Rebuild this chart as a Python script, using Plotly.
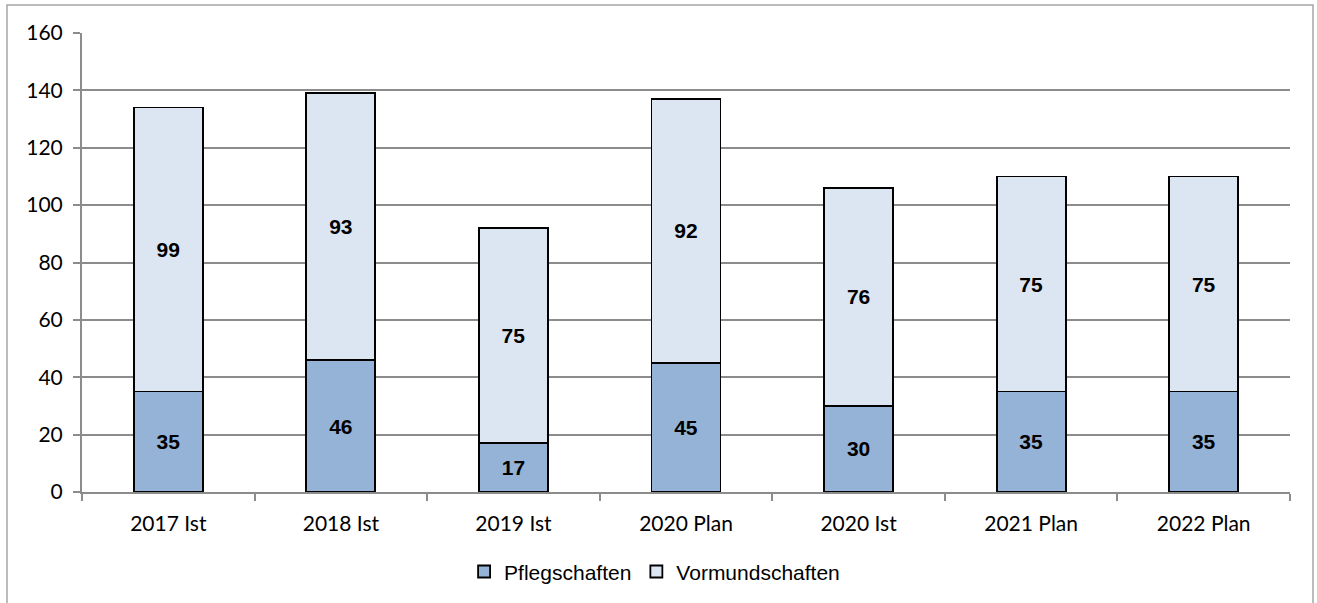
import plotly.graph_objects as go

categories = ["2017 Ist", "2018 Ist", "2019 Ist", "2020 Plan", "2020 Ist", "2021 Plan", "2022 Plan"]
pflegschaften = [35, 46, 17, 45, 30, 35, 35]
vormundschaften = [99, 93, 75, 92, 76, 75, 75]

W, H = 1317, 603
L, R, T, B = 82, 27, 33, 111
pw, ph = W - L - R, H - T - B

fig = go.Figure()
for name, vals, col in [("Pflegschaften", pflegschaften, "#95B3D7"),
                        ("Vormundschaften", vormundschaften, "#DCE6F2")]:
    fig.add_trace(go.Bar(
        x=categories, y=vals, name=name,
        marker=dict(color=col, line=dict(color="#000000", width=1.8)),
        text=[str(v) for v in vals], textposition="inside",
        insidetextanchor="middle", textangle=0, constraintext="none",
        textfont=dict(family="Liberation Sans, Arial", size=21, color="#000000", weight="bold"),
    ))

tickfont = dict(family="Lato, Open Sans, sans-serif", size=21, color="#000000")
fig.update_layout(
    barmode="stack", bargap=0.6,
    width=W, height=H,
    margin=dict(l=L, r=R, t=T, b=B, autoexpand=False),
    paper_bgcolor="white", plot_bgcolor="white",
    font=dict(family="Lato, Open Sans, sans-serif", size=21, color="#000000"),
    showlegend=True,
    legend=dict(orientation="h", x=0.474, xanchor="center", y=-0.174, yanchor="middle",
                font=dict(family="Liberation Sans, Arial", size=21, color="#000000"),
                itemwidth=30, tracegroupgap=0, traceorder="normal"),
    xaxis=dict(showline=True, linecolor="#8c8c8c", linewidth=2, ticks="outside",
               tickson="boundaries", ticklen=7, tickcolor="#8c8c8c", tickwidth=2,
               ticklabelstandoff=12, tickfont=tickfont),
    yaxis=dict(range=[0, 160], tick0=0, dtick=20, showline=True, linecolor="#8c8c8c",
               linewidth=2, ticks="outside", ticklen=7, tickcolor="#8c8c8c", tickwidth=2,
               showgrid=True, gridcolor="#8c8c8c", gridwidth=1.5, zeroline=False,
               ticklabelstandoff=6, tickfont=tickfont),
    shapes=[dict(type="rect", xref="paper", yref="paper",
                 x0=-(L - 7) / pw, x1=1 + (R - 4) / pw,
                 y0=-(B + 10) / ph, y1=1 + (T - 5) / ph,
                 line=dict(color="#a6a6a6", width=1.5), fillcolor="rgba(0,0,0,0)", layer="below")],
)

fig.write_html("out.html", config={"displayModeBar": False},
               post_script="document.body.style.margin='0px';document.body.style.overflow='hidden';")
